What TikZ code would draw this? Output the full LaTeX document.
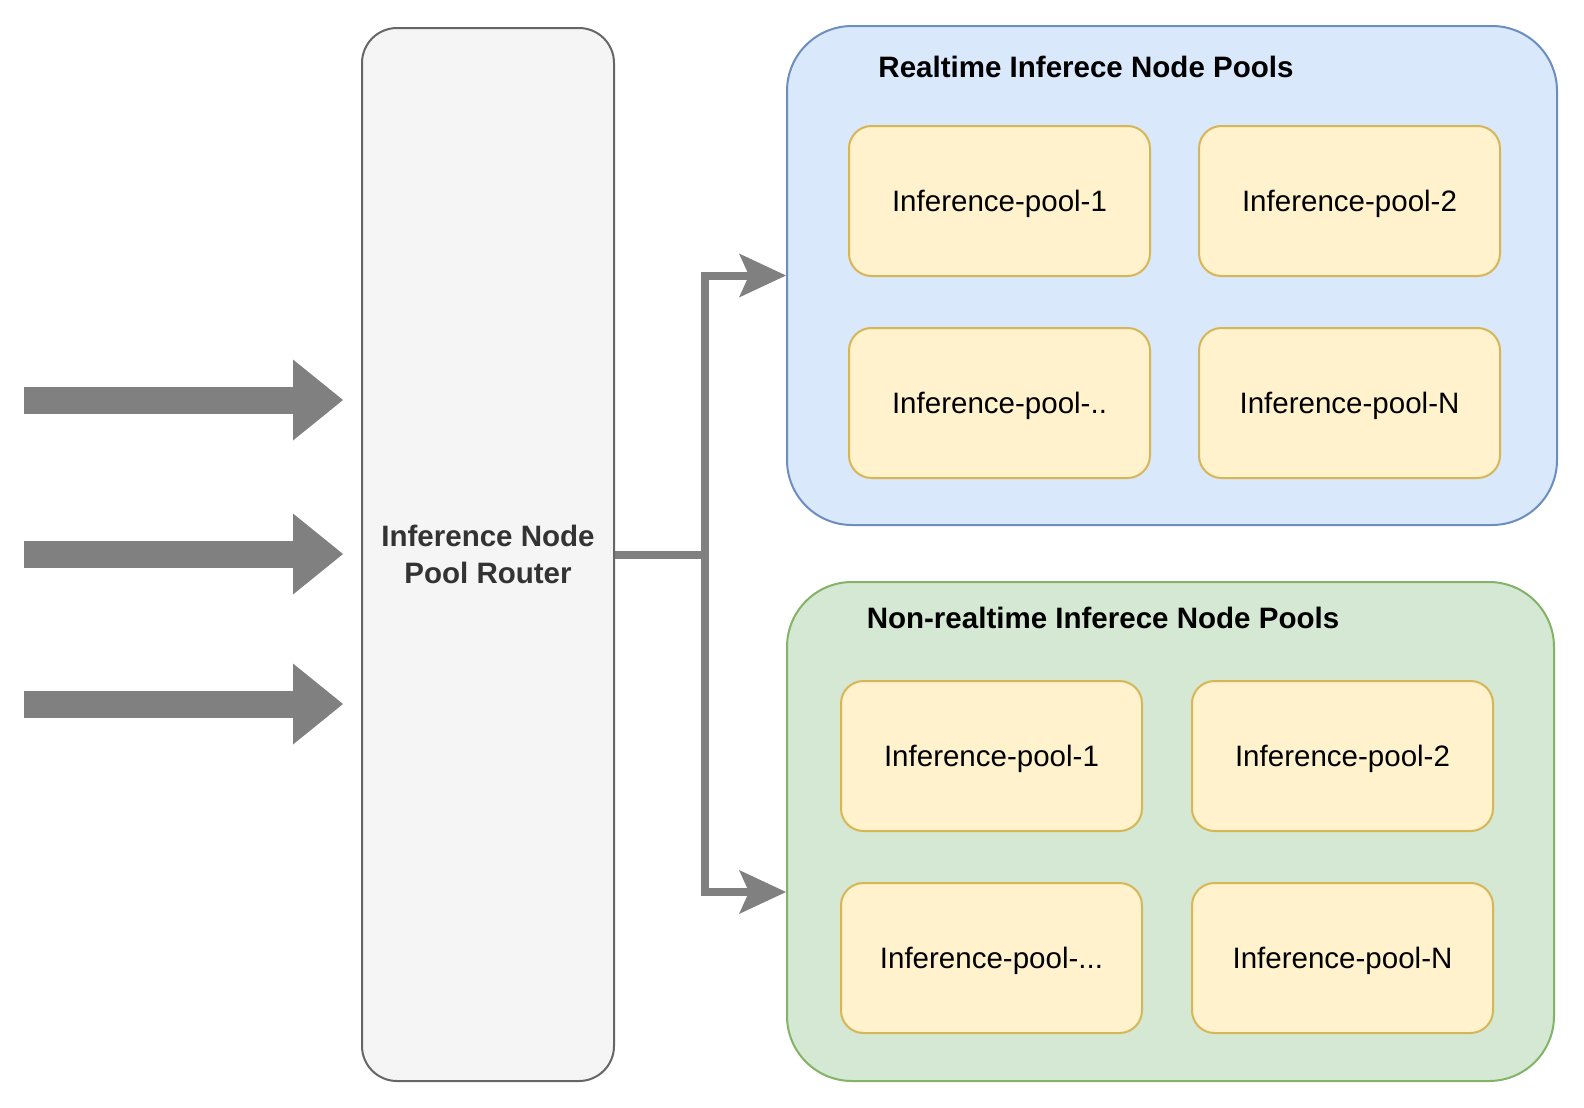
\documentclass[tikz,border=0pt]{standalone}
\usepackage{fontspec}
\setmainfont{Liberation Sans}
\usetikzlibrary{arrows.meta,calc,positioning}

\definecolor{routerfill}{HTML}{F5F5F5}
\definecolor{routerline}{HTML}{666666}
\definecolor{routertext}{HTML}{333333}
\definecolor{rtfill}{HTML}{DAE8FC}
\definecolor{rtline}{HTML}{6C8EBF}
\definecolor{nrtfill}{HTML}{D5E8D4}
\definecolor{nrtline}{HTML}{82B366}
\definecolor{poolfill}{HTML}{FFF2CC}
\definecolor{poolline}{HTML}{D6B656}
\definecolor{flowgray}{HTML}{808080}

\begin{document}
\begin{tikzpicture}[
  font=\fontsize{16.8}{20.7}\selectfont,
  router/.style={draw=routerline,fill=routerfill,text=routertext,line width=0.04cm,
                 rounded corners=0.7cm,minimum width=5.04cm,minimum height=21.06cm,
                 align=center,font=\fontsize{16.8}{20.7}\selectfont\bfseries},
  tray/.style  ={line width=0.04cm,rounded corners=1.3cm,minimum height=9.98cm},
  pool/.style  ={draw=poolline,fill=poolfill,line width=0.04cm,rounded corners=0.45cm,
                 minimum width=6.02cm,minimum height=3.0cm,inner sep=0pt,text depth=0pt},
  traytitle/.style={font=\fontsize{16.8}{20.7}\selectfont\bfseries},
  inflow/.style={draw=flowgray,line width=0.54cm,shorten >=0.36cm,
                 -{Triangle[length=1.0cm,width=1.62cm,line width=0pt]}},
  flow/.style  ={draw=flowgray,line width=0.16cm},
  flowend/.style={-{Stealth[length=0.94cm,width=0.88cm,inset=0.2cm,line width=0pt]}},
]

\useasboundingbox (0,0) rectangle (31.68,-22.16);

%% ============================================================
%% Columns:  x=0.5 (requests), x=9.8 (router), x=23.4 (node pools)
%% ============================================================

% --- Router (centre left) ---
\node[router] (router) at (9.76,-11.09) {Inference Node\\Pool Router};

% --- Realtime pools (top right) ---
\node[tray,draw=rtline,fill=rtfill,minimum width=15.40cm] (rtbox) at (23.44,-5.51) {};
\node[traytitle] (rttitle) at (21.72,-1.34) {Realtime Inferece Node Pools};

\node[pool] (rt1) at (19.99,-4.02) {Inference-pool-1};
\node[pool,right=0.94cm of rt1] (rt2) {Inference-pool-2};
\node[pool,below=1.0cm of rt1] (rtdots) {Inference-pool-..};
\node[pool,below=1.0cm of rt2] (rtN) {Inference-pool-N};

% --- Non-realtime pools (bottom right) ---
\node[tray,draw=nrtline,fill=nrtfill,minimum width=15.34cm] (nrtbox) at (23.41,-16.63) {};
\node[traytitle] (nrttitle) at (22.06,-12.36) {Non-realtime Inferece Node Pools};

\node[pool] (nrt1) at (19.83,-15.12) {Inference-pool-1};
\node[pool,right=0.96cm of nrt1] (nrt2) {Inference-pool-2};
\node[pool,below=1.0cm of nrt1] (nrtdots) {Inference-pool-...};
\node[pool,below=1.0cm of nrt2] (nrtN) {Inference-pool-N};

% --- Incoming requests ---
\coordinate (in1) at (0.48,-8.0);
\coordinate (in2) at (0.48,-11.08);
\coordinate (in3) at (0.48,-14.08);
\foreach \i in {1,2,3}
  \draw[inflow] (in\i) -- (in\i -| router.west);

% --- Router to pools ---
\coordinate (split) at ($(router.east)+(1.8,0)$);
\coordinate (nrtin) at ($(nrtbox.west)+(0,-1.21)$);
\draw[flow,flowend] (router.east) -- (split) |- (rtbox.west);
\draw[flow,flowend] (split) |- (nrtin);

\end{tikzpicture}
\end{document}
